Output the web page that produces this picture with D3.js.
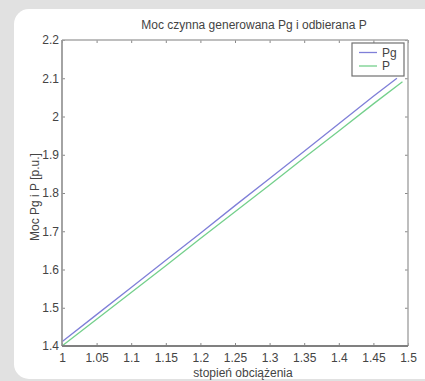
<!DOCTYPE html>
<html>
<head>
<meta charset="utf-8">
<script src="https://cdn.jsdelivr.net/npm/d3@7"></script>
<style>
  html, body { margin: 0; padding: 0; background: #e1e1e1; }
  svg { display: block; font-family: "Liberation Sans", Arial, sans-serif; }
</style>
</head>
<body>
<svg id="chart" width="425" height="381"></svg>
<script>
// Loading factor (stopień obciążenia) and active power values [p.u.]
const loadPg = [1.00, 1.05, 1.10, 1.15, 1.20, 1.25, 1.30, 1.35, 1.40, 1.45, 1.484];
const powerPg = [1.411, 1.482, 1.553, 1.624, 1.695, 1.767, 1.838, 1.909, 1.981, 2.053, 2.100];
const loadP = [1.00, 1.05, 1.10, 1.15, 1.20, 1.25, 1.30, 1.35, 1.40, 1.45, 1.492];
const powerP = [1.400, 1.470, 1.540, 1.610, 1.681, 1.751, 1.821, 1.892, 1.962, 2.033, 2.091];

const xTicks = [1, 1.05, 1.1, 1.15, 1.2, 1.25, 1.3, 1.35, 1.4, 1.45, 1.5];
const xTickLabels = ["1", "1.05", "1.1", "1.15", "1.2", "1.25", "1.3", "1.35", "1.4", "1.45", "1.5"];
const yTicks = [1.4, 1.5, 1.6, 1.7, 1.8, 1.9, 2.0, 2.1, 2.2];
const yTickLabels = ["1.4", "1.5", "1.6", "1.7", "1.8", "1.9", "2", "2.1", "2.2"];

const seriesNames = ["Pg", "P"];
const seriesColors = ["#7f7fd8", "#74d08c"];

(function () {
  const svg = d3.select("#chart");
  const fontSize = "12px";

  // white card
  svg.append("rect")
    .attr("x", 14).attr("y", 9)
    .attr("width", 425).attr("height", 370)
    .attr("rx", 15).attr("ry", 15)
    .attr("fill", "#ffffff");

  const mLeft = 62, mRight = 408, mTop = 40, mBottom = 346;
  const x = d3.scaleLinear().domain([1, 1.5]).range([mLeft, mRight]);
  const y = d3.scaleLinear().domain([1.4, 2.2]).range([mBottom, mTop]);

  const tickColor = "#888";
  const labelColor = "#444";

  // axes: inward ticks on all four sides
  const gB = svg.append("g").attr("transform", `translate(0,${mBottom})`)
    .call(d3.axisBottom(x).tickValues(xTicks)
      .tickFormat((d, i) => xTickLabels[i]).tickSizeInner(-3).tickSizeOuter(0).tickPadding(7));
  const gT = svg.append("g").attr("transform", `translate(0,${mTop})`)
    .call(d3.axisTop(x).tickValues(xTicks).tickFormat("").tickSizeInner(-3).tickSizeOuter(0));
  const gL = svg.append("g").attr("transform", `translate(${mLeft},0)`)
    .call(d3.axisLeft(y).tickValues(yTicks)
      .tickFormat((d, i) => yTickLabels[i]).tickSizeInner(-3).tickSizeOuter(0).tickPadding(3));
  const gR = svg.append("g").attr("transform", `translate(${mRight},0)`)
    .call(d3.axisRight(y).tickValues(yTicks).tickFormat("").tickSizeInner(-3).tickSizeOuter(0));

  [gB, gT, gL, gR].forEach(g => {
    g.select(".domain").remove();
    g.selectAll(".tick line").attr("stroke", tickColor).attr("stroke-width", 1);
    g.selectAll(".tick text").attr("fill", labelColor)
      .style("font-size", fontSize).style("font-family", "'Liberation Sans', Arial, sans-serif");
  });

  // data lines
  const line = d3.line().x(d => x(d[0])).y(d => y(d[1]));
  const dataPg = loadPg.map((v, i) => [v, powerPg[i]]);
  const dataP = loadP.map((v, i) => [v, powerP[i]]);
  [dataPg, dataP].forEach((data, i) => {
    svg.append("path").datum(data)
      .attr("d", line)
      .attr("fill", "none")
      .attr("stroke", seriesColors[i])
      .attr("stroke-width", 1.3);
  });

  // axes box
  svg.append("line").attr("x1", mLeft).attr("x2", mRight).attr("y1", mTop).attr("y2", mTop)
    .attr("stroke", "#a8a8a8").attr("stroke-width", 1.5);
  svg.append("line").attr("x1", mRight).attr("x2", mRight).attr("y1", mTop).attr("y2", mBottom)
    .attr("stroke", "#a8a8a8").attr("stroke-width", 1.5);
  svg.append("line").attr("x1", mLeft).attr("x2", mLeft).attr("y1", mTop).attr("y2", mBottom)
    .attr("stroke", "#9a9a9a").attr("stroke-width", 1.8);
  svg.append("line").attr("x1", mLeft).attr("x2", mRight).attr("y1", mBottom).attr("y2", mBottom)
    .attr("stroke", "#808080").attr("stroke-width", 2);

  // title and axis labels
  svg.append("text").attr("x", 254).attr("y", 29).attr("text-anchor", "middle")
    .attr("fill", labelColor).style("font-size", fontSize)
    .text("Moc czynna generowana Pg i odbierana P");
  svg.append("text").attr("x", 243).attr("y", 377).attr("text-anchor", "middle")
    .attr("fill", labelColor).style("font-size", fontSize)
    .text("stopień obciążenia");
  svg.append("text")
    .attr("transform", `translate(39,${(mTop + mBottom) / 2 + 4}) rotate(-90)`)
    .attr("text-anchor", "middle")
    .attr("fill", labelColor).style("font-size", fontSize)
    .text("Moc Pg i P [p.u.]");

  // legend
  const lg = svg.append("g");
  lg.append("rect").attr("x", 352).attr("y", 43).attr("width", 52).attr("height", 33)
    .attr("fill", "#ffffff").attr("stroke", "#707070").attr("stroke-width", 1.2);
  seriesNames.forEach((name, i) => {
    const ly = 52.5 + i * 13.5;
    lg.append("line").attr("x1", 359).attr("x2", 377).attr("y1", ly).attr("y2", ly)
      .attr("stroke", seriesColors[i]).attr("stroke-width", 1.3);
    lg.append("text").attr("x", 382).attr("y", ly + 4)
      .attr("fill", labelColor).style("font-size", fontSize).text(name);
  });
})();
</script>
</body>
</html>
